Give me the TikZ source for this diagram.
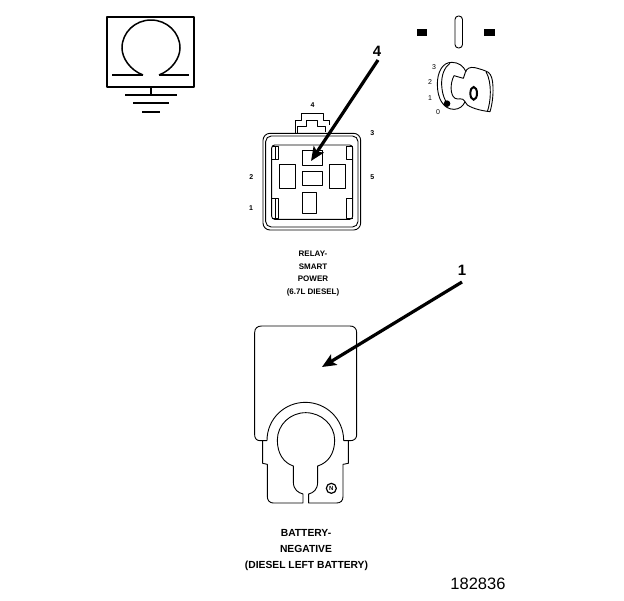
\documentclass[tikz,border=0pt]{standalone}
\usepackage{fontspec}
\setmainfont{Liberation Sans}
\usetikzlibrary{arrows.meta}
\tikzset{
  ln/.style={line width=0.9pt,line join=round},
  ln2/.style={line width=1.4pt,line join=round},
  pinlabel/.style={font=\fontsize{7}{8}\selectfont\bfseries,inner sep=0pt},
  keylabel/.style={font=\fontsize{7}{8}\selectfont,inner sep=0pt},
  captext/.style={font=\fontsize{8}{9}\selectfont\bfseries,inner sep=0pt},
  captextb/.style={font=\fontsize{10.3}{12}\selectfont\bfseries,inner sep=0pt},
  callout/.style={font=\fontsize{15}{16}\selectfont\bfseries,inner sep=0pt},
  pointer/.style={line width=3.2pt,-{Stealth[length=14pt,width=12pt,inset=3pt]}}
}
\begin{document}
\begin{tikzpicture}[x=1pt,y=-1pt]
\useasboundingbox (0,0) rectangle (624,600);
% ohm / ground symbol
\draw[ln2] (107,17) rectangle (194,87);
\draw[line width=1.5pt] (143,75) .. controls (130,70) and (122,58) .. (122,48) arc[start angle=180,end angle=360,x radius=29,y radius=28] .. controls (180,58) and (172,70) .. (159,75);
\draw[ln2] (112,75) -- (143,75) (159,75) -- (189,75);
\draw[ln2] (151,87) -- (151,95);
\draw[ln2] (125,95) -- (177,95);
\draw[line width=2.6pt] (133,103) -- (169,103);
\draw[ln2] (142,112) -- (160,112);
% ignition key
\fill (417,29) rectangle (427,36);
\fill (484,29) rectangle (495,36);
\draw[ln,rounded corners=3.5pt] (455,16) rectangle (462.5,48);
\node[keylabel] (k3) at (434,67) {3};
\node[keylabel] (k2) at (430,82) {2};
\node[keylabel] (k1) at (430,98) {1};
\node[keylabel] (k0) at (438,112) {0};
\begin{scope}[shift={(430,55)},x=1/3*1pt,y=-1/3*1pt]
\draw[ln] (108,50) .. controls (100,32) and (85,22) .. (65,22) .. controls (38,22) and (22,50) .. (22,88) .. controls (22,130) and (40,163) .. (72,163) .. controls (88,163) and (100,153) .. (105,140);
\draw[ln] (60,25) .. controls (42,38) and (34,62) .. (35,90) .. controls (36,110) and (40,125) .. (47,138);
\draw[ln] (72,62) -- (100,70) -- (106,52);
\draw[ln] (72,62) .. controls (60,85) and (60,120) .. (75,130) .. controls (85,136) and (98,125) .. (105,140);
\draw[ln] (106,52) .. controls (110,40) and (120,35) .. (135,38) .. controls (150,42) and (165,46) .. (175,52) .. controls (185,60) and (188,75) .. (189,95) .. controls (190,125) and (186,150) .. (180,170) .. controls (160,168) and (130,162) .. (112,150) -- (105,140);
\draw[ln] (168,50) .. controls (178,68) and (181,90) .. (181,112) .. controls (181,135) and (177,155) .. (172,170);
\fill (51,146) circle[radius=10];
\draw[line width=2pt] (131,115) ellipse[x radius=10,y radius=19];
\end{scope}
% relay connector
\begin{scope}[shift={(240,90)},x=1/3*1pt,y=-1/3*1pt]
\draw[ln,rounded corners=7pt] (69,130) rectangle (362,420);
\draw[ln,rounded corners=5.5pt] (77,138) rectangle (354,411);
\draw[ln,rounded corners=3pt] (95,165) rectangle (338,388);
\draw[ln] (165,130) -- (165,92) -- (183,92) -- (183,70) -- (251,70) -- (251,92) -- (269,92) -- (269,104);
\draw[ln] (172,130) -- (172,110) -- (200,110) -- (200,92) -- (232,92) -- (232,110) -- (255,110) -- (255,125);
\draw[ln] (95,170) -- (115,170) -- (115,207) -- (95,207) (106,170) -- (106,207);
\draw[ln] (338,170) -- (320,170) -- (320,207) -- (338,207);
\draw[ln] (95,326) -- (115,326) -- (115,384) -- (95,384) (106,326) -- (106,384);
\draw[ln] (338,326) -- (320,326) -- (320,384) -- (338,384);
\draw[ln] (188,182) rectangle (247,227);
\draw[ln] (188,244) rectangle (247,287);
\draw[ln] (119,223) rectangle (166,295);
\draw[ln] (269,223) rectangle (317,295);
\draw[ln] (188,307) rectangle (229,370);
\node[pinlabel] (r4) at (218,44) {4};
\node[pinlabel] (r3) at (397,128) {3};
\node[pinlabel] (r2) at (34,261) {2};
\node[pinlabel] (r5) at (397,261) {5};
\node[pinlabel] (r1) at (33,353) {1};
\end{scope}
\node[captext] (c1) at (313,254) {RELAY-};
\node[captext] (c2) at (313,267) {SMART};
\node[captext] (c3) at (313,279) {POWER};
\node[captext] (c4) at (313,292) {(6.7L DIESEL)};
% battery terminal
\begin{scope}[shift={(240,310)},x=1/3*1pt,y=-1/3*1pt]
\draw[ln] (81,392) -- (60,392) .. controls (50,392) and (44,385) .. (44,375) -- (44,68) .. controls (44,55) and (52,48) .. (65,48) -- (330,48) .. controls (342,48) and (350,55) .. (350,68) -- (350,375) .. controls (350,385) and (342,392) .. (332,392) -- (311,392);
\draw[ln] (81,392) .. controls (81,325) and (135,277) .. (196,277) .. controls (257,277) and (311,325) .. (311,392);
\draw[ln] (68,392) -- (68,460) -- (82,463) -- (82,560) .. controls (82,572) and (90,579) .. (100,579) -- (189,579) -- (189,552) .. controls (175,548) and (160,540) .. (160,515) -- (160,468) .. controls (130,458) and (112,430) .. (112,390) .. controls (112,345) and (150,308) .. (197,308) .. controls (244,308) and (284,345) .. (284,390) .. controls (284,430) and (265,458) .. (233,468) -- (233,515) .. controls (233,540) and (220,548) .. (206,552) -- (206,579) -- (290,579) .. controls (302,579) and (309,572) .. (309,560) -- (309,463) -- (325,460) -- (325,392);
\draw[line width=1.2pt] (274,535) circle[radius=15];
\node[pinlabel,font=\fontsize{6}{7}\selectfont\bfseries] (nmark) at (274,535) {N};
\end{scope}
\node[captextb] (b1) at (306,533) {BATTERY-};
\node[captextb] (b2) at (306,549) {NEGATIVE};
\node[captextb] (b3) at (306.5,566) {(DIESEL LEFT BATTERY)};
\node[font=\fontsize{16.5}{18}\selectfont,inner sep=0pt] (fig) at (478,584) {182836};
% callouts
\node[callout] (n4) at (377,51) {4};
\node[callout] (n1) at (462,270) {1};
\coordinate (a4s) at (378,60);
\coordinate (a4e) at (311,161);
\coordinate (a1s) at (462,282);
\coordinate (a1e) at (322,367);
\draw[pointer] (a4s) -- (a4e);
\draw[pointer] (a1s) -- (a1e);
\end{tikzpicture}
\end{document}
